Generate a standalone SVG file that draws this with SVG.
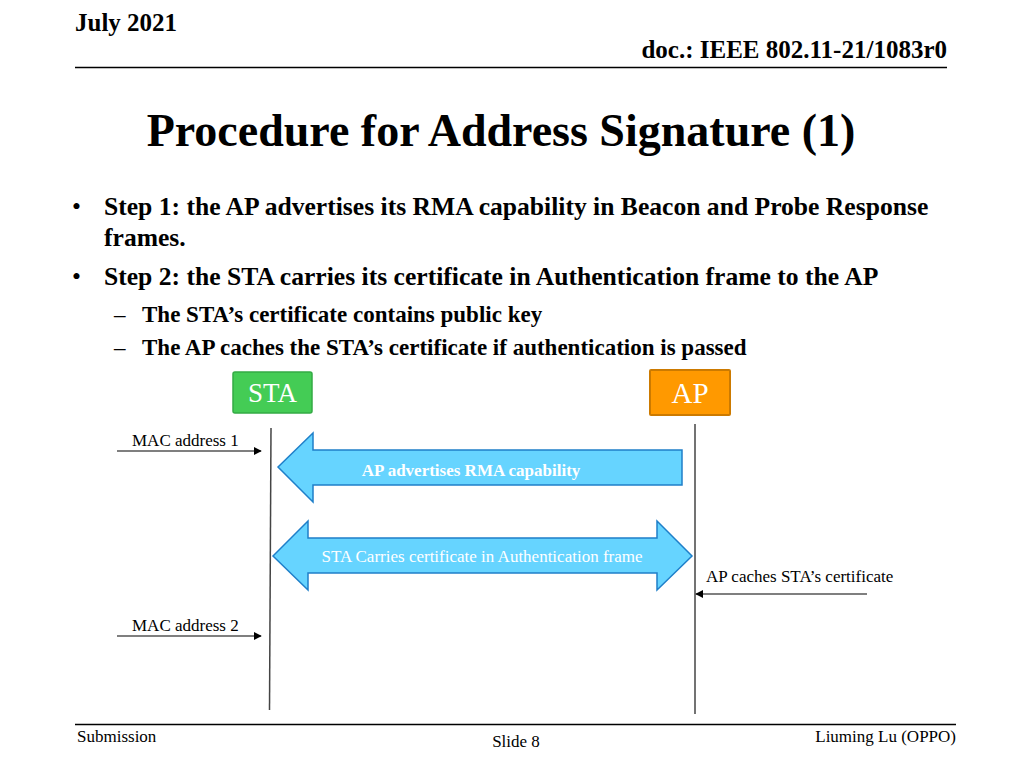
<svg xmlns="http://www.w3.org/2000/svg" width="1024" height="768" viewBox="0 0 1024 768">
<defs>
<style>
.t{font-family:"Liberation Serif","Times New Roman",serif;fill:#000}
.b{font-weight:bold}
.lab{font-family:"Liberation Serif","Times New Roman",serif;font-size:17px;fill:#000}
.wl{font-family:"Liberation Serif","Times New Roman",serif;font-size:17px;fill:#fff;text-anchor:middle}
.life{stroke:#444;stroke-width:1.5;fill:none}
.conn{stroke:#000;stroke-width:1.2;fill:none}
.big{fill:#66d4ff;stroke:#1f7fc9;stroke-width:1.5}
</style>
<marker id="ah" viewBox="0 0 10 10" refX="9" refY="5" markerWidth="8" markerHeight="8" markerUnits="userSpaceOnUse" orient="auto"><path d="M0,0 L10,5 L0,10 z" fill="#000"/></marker>
</defs>
<rect width="1024" height="768" fill="#fff"/>
<g id="header">
<text class="t b" x="75" y="31" font-size="25">July 2021</text>
<text class="t b" x="947" y="58" font-size="25" text-anchor="end">doc.: IEEE 802.11-21/1083r0</text>
<line x1="75" y1="67.5" x2="947" y2="67.5" stroke="#000" stroke-width="1.5"/>
</g>
<text class="t b" x="501" y="146" font-size="46" text-anchor="middle">Procedure for Address Signature (1)</text>
<g id="bullets">
<text class="t" x="72" y="215" font-size="25.6">•</text>
<text class="t b" x="104" y="215" font-size="25.6">Step 1: the AP advertises its RMA capability in Beacon and Probe Response</text>
<text class="t b" x="104" y="246" font-size="25.6">frames.</text>
<text class="t" x="72" y="285" font-size="25.6">•</text>
<text class="t b" x="104" y="285" font-size="25.6">Step 2: the STA carries its certificate in Authentication frame to the AP</text>
<text class="t" x="114" y="322" font-size="23">–</text>
<text class="t b" x="142" y="322" font-size="23">The STA’s certificate contains public key</text>
<text class="t" x="114" y="355" font-size="23">–</text>
<text class="t b" x="142" y="355" font-size="23">The AP caches the STA’s certificate if authentication is passed</text>
</g>
<g id="STA">
<rect x="233" y="372" width="79" height="41" rx="2" fill="#44cc55" stroke="#33aa44" stroke-width="1.5"/>
<text x="272.5" y="402" font-family="Liberation Serif, serif" font-size="27" fill="#fff" text-anchor="middle">STA</text>
</g>
<g id="AP">
<rect x="650" y="370" width="80" height="45" rx="1" fill="#ff9900" stroke="#cc7a00" stroke-width="2"/>
<text x="690" y="403" font-family="Liberation Serif, serif" font-size="29" fill="#fff" text-anchor="middle">AP</text>
</g>
<g id="msg1">
<path class="big" d="M278,467 L313,433 L313,450 L682,450 L682,485 L313,485 L313,502 Z"/>
<text class="wl" x="471" y="476" font-weight="bold">AP advertises RMA capability</text>
</g>
<g id="msg2">
<path class="big" d="M273,556 L308,521 L308,538 L657,538 L657,521 L692,556 L657,590 L657,573 L308,573 L308,590 Z"/>
<text class="wl" x="482" y="562">STA Carries certificate in Authentication frame</text>
</g>
<g id="connectors">
<line class="life" x1="271" y1="428" x2="269.5" y2="710"/>
<line class="life" x1="695" y1="424" x2="695" y2="714"/>
<line class="conn" x1="117" y1="451" x2="261" y2="451" marker-end="url(#ah)"/>
<line class="conn" x1="117" y1="636" x2="261" y2="636" marker-end="url(#ah)"/>
<line class="conn" x1="867" y1="594" x2="696" y2="594" marker-end="url(#ah)"/>
</g>
<g id="labels">
<text class="lab" x="132" y="446">MAC address 1</text>
<text class="lab" x="132" y="631">MAC address 2</text>
<text class="lab" x="706" y="582">AP caches STA’s certificate</text>
</g>
<g id="footer">
<line x1="75" y1="724.5" x2="956" y2="724.5" stroke="#000" stroke-width="1.5"/>
<text class="t" x="77" y="742" font-size="17">Submission</text>
<text class="t" x="516" y="747" font-size="17" text-anchor="middle">Slide 8</text>
<text class="t" x="956" y="742" font-size="17" text-anchor="end">Liuming Lu (OPPO)</text>
</g>
</svg>
